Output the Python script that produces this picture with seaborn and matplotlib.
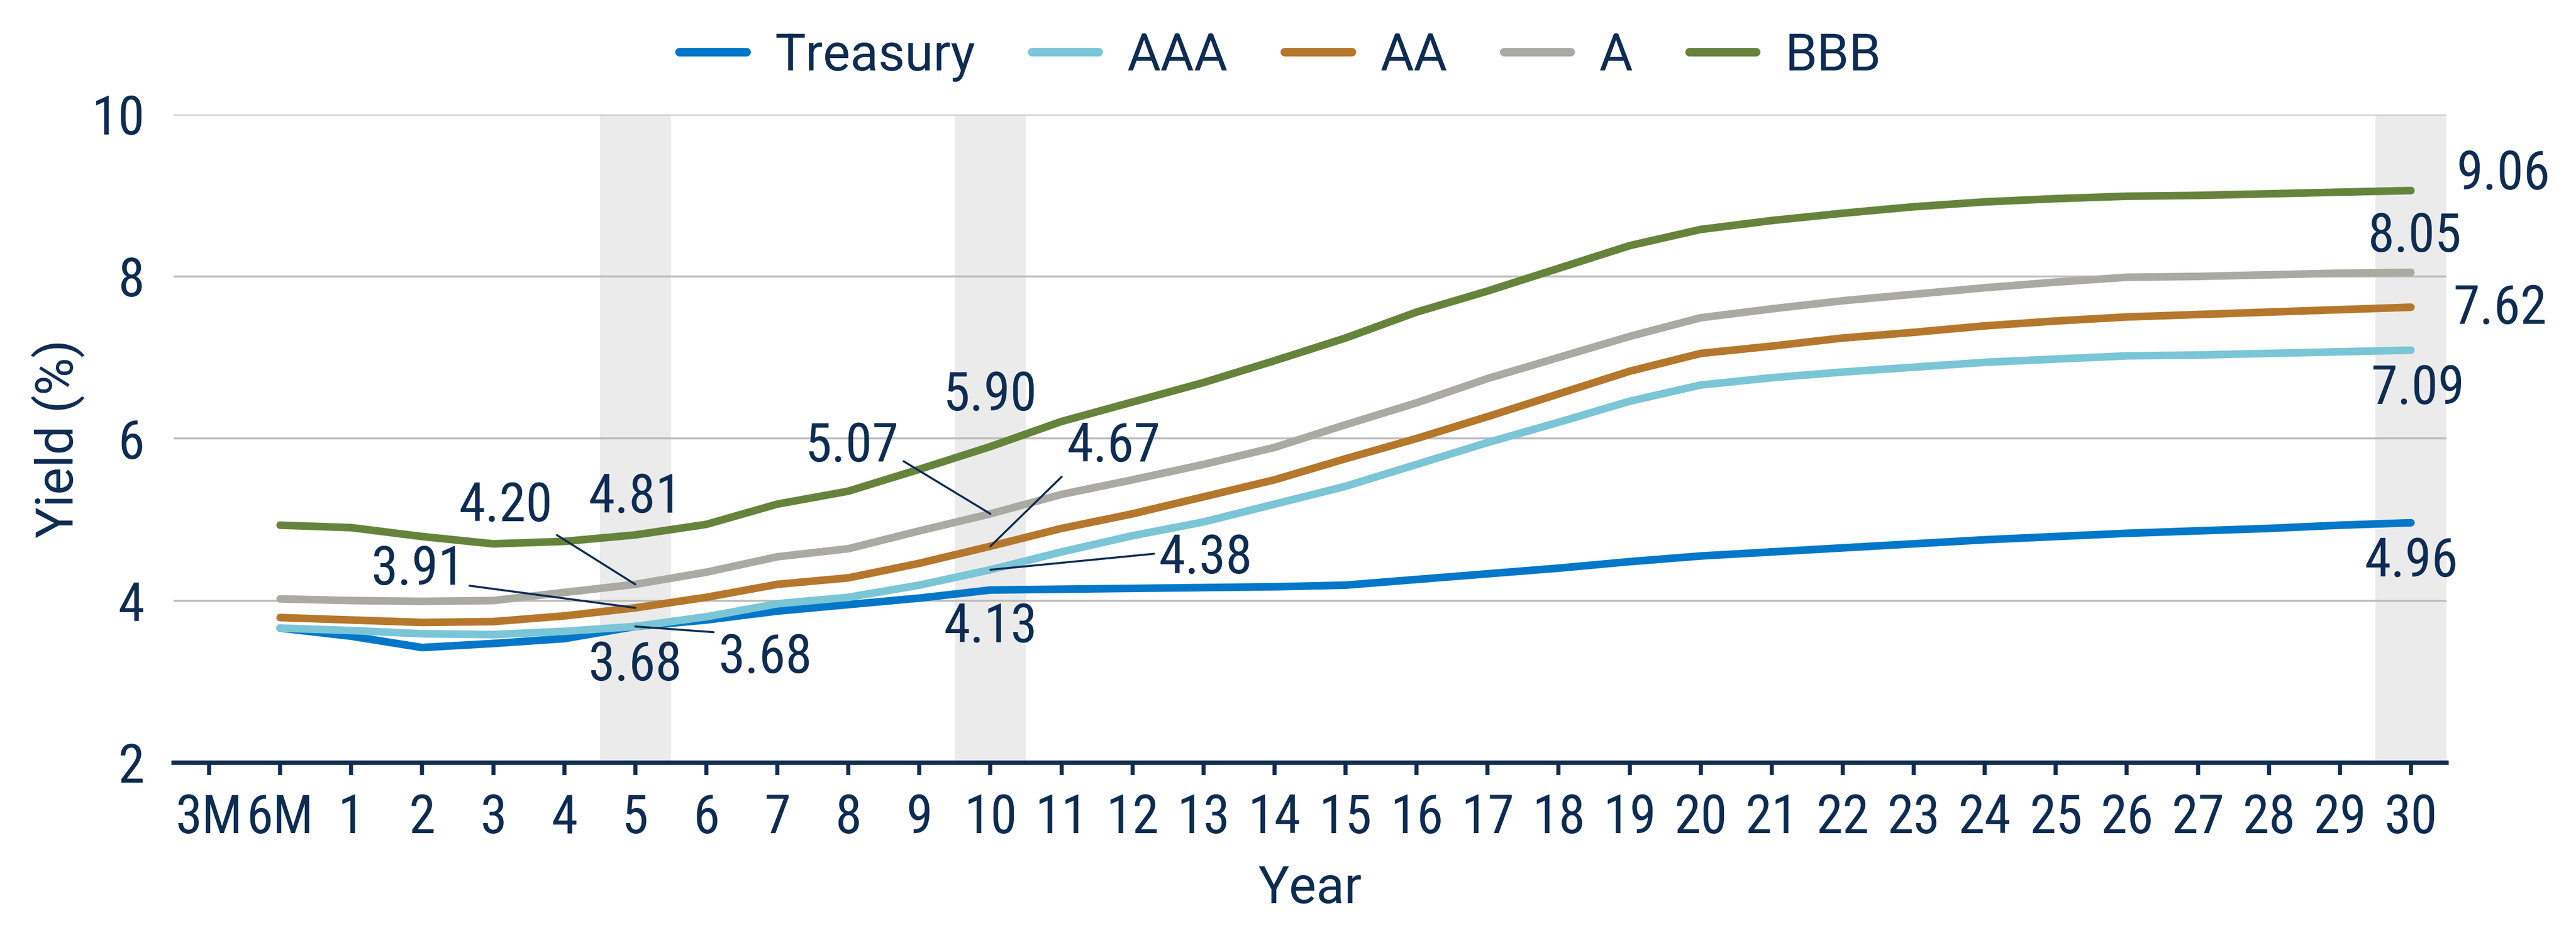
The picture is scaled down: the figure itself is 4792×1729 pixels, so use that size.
import pandas as pd
import matplotlib
matplotlib.use("Agg")
import matplotlib.pyplot as plt
from matplotlib import font_manager as fm
from matplotlib.lines import Line2D
import seaborn as sns

# tenors on the x axis (3M has no data)
tenors = ["3M", "6M"] + [str(i) for i in range(1, 31)]
data_tenors = tenors[1:]

# yields (%) from 6M to 30Y
treasury = [3.66, 3.56, 3.42, 3.47, 3.53, 3.68, 3.76, 3.87, 3.95, 4.03, 4.13,
            4.14, 4.15, 4.16, 4.17, 4.19, 4.26, 4.33, 4.40, 4.48, 4.55, 4.60,
            4.65, 4.70, 4.75, 4.79, 4.83, 4.86, 4.89, 4.93, 4.96]
aaa = [3.66, 3.63, 3.59, 3.58, 3.62, 3.68, 3.80, 3.96, 4.04, 4.19, 4.38,
       4.60, 4.80, 4.97, 5.19, 5.41, 5.68, 5.95, 6.20, 6.46, 6.66, 6.75,
       6.82, 6.88, 6.94, 6.98, 7.02, 7.03, 7.05, 7.07, 7.09]
aa = [3.79, 3.76, 3.73, 3.74, 3.81, 3.91, 4.04, 4.20, 4.28, 4.46, 4.67,
      4.89, 5.07, 5.28, 5.49, 5.75, 6.00, 6.27, 6.55, 6.83, 7.05, 7.14,
      7.24, 7.31, 7.39, 7.45, 7.50, 7.53, 7.56, 7.59, 7.62]
a = [4.02, 4.00, 3.99, 4.00, 4.10, 4.20, 4.35, 4.54, 4.64, 4.86, 5.07,
     5.31, 5.49, 5.68, 5.89, 6.17, 6.44, 6.74, 7.00, 7.26, 7.49, 7.60,
     7.70, 7.78, 7.86, 7.93, 7.99, 8.00, 8.02, 8.04, 8.05]
bbb = [4.93, 4.90, 4.79, 4.70, 4.73, 4.81, 4.94, 5.19, 5.35, 5.62, 5.90,
       6.21, 6.45, 6.69, 6.96, 7.24, 7.56, 7.82, 8.10, 8.38, 8.58, 8.69,
       8.78, 8.86, 8.92, 8.96, 8.99, 9.00, 9.02, 9.04, 9.06]

series_names = ["Treasury", "AAA", "AA", "A", "BBB"]
series_values = [treasury, aaa, aa, a, bbb]
colors = ["#0077C8", "#7AC5D6", "#B5772B", "#AAAAA3", "#66833B"]

highlight = ["5", "10", "30"]

# label placement: (series, tenor) -> (dx, dy, relpos or None)
label_layout = {
    ("BBB", "5"): (0, 0.46, None),
    ("A", "5"): (-1.83, 0.96, (1, 0)),
    ("AA", "5"): (-3.06, 0.47, (1, 0.2)),
    ("Treasury", "5"): (0, -0.48, None),
    ("AAA", "5"): (1.83, -0.39, (0, 1)),
    ("BBB", "10"): (0, 0.63, None),
    ("A", "10"): (-1.95, 0.83, (1, 0.27)),
    ("AA", "10"): (1.73, 1.23, (0, 0)),
    ("AAA", "10"): (3.03, 0.14, (0, 0.6)),
    ("Treasury", "10"): (0, -0.46, None),
    ("BBB", "30"): (1.3, 0.2, None),
    ("A", "30"): (0.05, 0.44, None),
    ("AA", "30"): (1.26, -0.02, None),
    ("AAA", "30"): (0.1, -0.48, None),
    ("Treasury", "30"): (0, -0.48, None),
}

navy = "#0E2C52"


def first_font(names):
    for n in names:
        try:
            fm.findfont(fm.FontProperties(family=n), fallback_to_default=False)
            return n
        except Exception:
            pass
    return "DejaVu Sans"


sns.set_theme(style="white")
plt.rcParams["font.family"] = ["Roboto", "DejaVu Sans"]
num_font = first_font(["Roboto Condensed", "Barlow Semi Condensed",
                       "Liberation Sans Narrow", "Roboto"])

rows = []
for name, vals in zip(series_names, series_values):
    for t, v in zip(data_tenors, vals):
        rows.append({"tenor": t, "series": name, "yield": v})
df = pd.DataFrame(rows)
df["pos"] = df["tenor"].map({t: i for i, t in enumerate(tenors)})

fig = plt.figure(figsize=(4792 / 300, 1729 / 300), dpi=300)
ax = fig.add_axes([0.0674, 0.180, 0.8823, 0.697])

for t in highlight:
    i = tenors.index(t)
    ax.axvspan(i - 0.5, i + 0.5, color="#EBEBEB", zorder=0, lw=0)

sns.lineplot(data=df, x="pos", y="yield", hue="series", hue_order=series_names,
             palette=colors, linewidth=3.4, legend=False, ax=ax,
             solid_capstyle="round", zorder=3)

ax.set_xlim(-0.5, len(tenors) - 0.5)
ax.set_ylim(2, 10)
ax.set_yticks([2, 4, 6, 8, 10])
ax.set_xticks(range(len(tenors)))
ax.set_xticklabels(tenors)
ax.set_axisbelow(True)
ax.grid(axis="y", color="#BBBBBB", lw=0.85)
ax.grid(axis="x", visible=False)
for s in ["left", "right", "top"]:
    ax.spines[s].set_visible(False)
ax.spines["bottom"].set_color(navy)
ax.spines["bottom"].set_linewidth(2)
ax.tick_params(axis="x", length=5.5, width=1.8, color=navy, pad=8,
               labelcolor=navy, labelsize=24, bottom=True)
ax.tick_params(axis="y", length=0, pad=13, labelcolor=navy, labelsize=24)
for lab in ax.get_xticklabels() + ax.get_yticklabels():
    lab.set_fontfamily(num_font)

ax.set_xlabel("Year", fontsize=23, color=navy, labelpad=9)
ax.set_ylabel("Yield (%)", fontsize=23, color=navy, labelpad=3)

# value labels at 5, 10 and 30 years
for name, vals in zip(series_names, series_values):
    for t in highlight:
        i = tenors.index(t)
        v = vals[data_tenors.index(t)]
        dx, dy, rp = label_layout[(name, t)]
        props = None
        if rp is not None:
            props = dict(arrowstyle="-", color=navy, lw=0.9, shrinkA=0,
                         shrinkB=0, relpos=rp)
        ax.annotate(f"{v:.2f}", xy=(i, v), xytext=(i + dx, v + dy),
                    textcoords="data", ha="center", va="center",
                    fontsize=24, color=navy, family=num_font,
                    arrowprops=props, zorder=5)

handles = [Line2D([0], [0], color=c, lw=3.8, solid_capstyle="round")
           for c in colors]
leg = fig.legend(handles, series_names, loc="center", bbox_to_anchor=(0.497, 0.939),
                 ncol=5, frameon=False, fontsize=23, handlelength=1.3,
                 handletextpad=0.55, columnspacing=1.1)
for txt in leg.get_texts():
    txt.set_color(navy)

fig.savefig("out.png", dpi=300)
